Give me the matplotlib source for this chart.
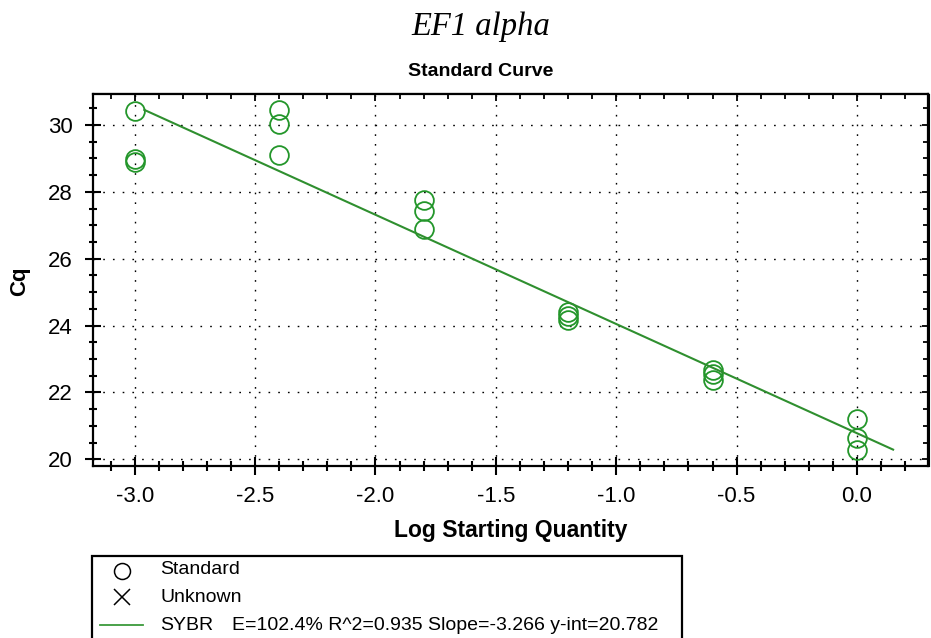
import matplotlib
matplotlib.use('Agg')
import matplotlib.pyplot as plt
from matplotlib.lines import Line2D
from matplotlib.patches import Rectangle
from matplotlib.ticker import MultipleLocator

log_cantidad = [-3.0, -3.0, -3.0,
                -2.4, -2.4, -2.4,
                -1.8, -1.8, -1.8,
                -1.2, -1.2, -1.2,
                -0.6, -0.6, -0.6,
                0.0, 0.0, 0.0]
cq = [30.42, 28.97, 28.88,
      30.45, 30.04, 29.10,
      27.76, 27.43, 26.88,
      24.42, 24.30, 24.18,
      22.68, 22.54, 22.36,
      21.21, 20.65, 20.29]
recta_x = [-2.96, 0.15]
recta_y = [30.45, 20.29]
xticks = [-3.0, -2.5, -2.0, -1.5, -1.0, -0.5, 0.0]
yticks = [20, 22, 24, 26, 28, 30]
texto_recta = 'E=102.4% R^2=0.935 Slope=-3.266 y-int=20.782'

W, H = 931, 638
verde = '#23962a'
verde_linea = '#2f8f2f'


def px(x, y):
    return x / W, 1 - y / H


plt.rcParams['font.family'] = ['Liberation Sans', 'DejaVu Sans']

fig = plt.figure(figsize=(W / 100, H / 100), dpi=100)
ax = fig.add_axes([93 / W, 1 - 466 / H, (928.5 - 93) / W, (466 - 93.5) / H])

ax.plot(log_cantidad, cq, linestyle='none', marker='o', markersize=13.5,
        markerfacecolor='none', markeredgecolor=verde, markeredgewidth=1.3)
ax.plot(recta_x, recta_y, color=verde_linea, linewidth=1.5)

ax.set_xlim(-3.173, 0.297)
ax.set_ylim(19.80, 30.94)
ax.set_xticks(xticks)
ax.set_xticklabels([f'{v:.1f}' for v in xticks])
ax.set_yticks(yticks)
ax.xaxis.set_minor_locator(MultipleLocator(0.1))
ax.yaxis.set_minor_locator(MultipleLocator(0.5))

ax.grid(True, which='major', color='black', linestyle=(0, (1.2, 5.8)), linewidth=1.0)

for s in ax.spines.values():
    s.set_linewidth(1.6)

ax.tick_params(axis='x', which='major', direction='inout', length=13, width=1.5,
               labelsize=16, pad=8)
ax.tick_params(axis='x', which='minor', direction='inout', length=6.5, width=1.5)
ax.tick_params(axis='y', which='major', direction='inout', length=11, width=1.5,
               labelsize=16, pad=9)
ax.tick_params(axis='y', which='minor', direction='inout', length=6, width=1.5)

# ticks hacia adentro arriba y a la derecha
sx = ax.secondary_xaxis('top')
sx.set_xticks(xticks)
sx.xaxis.set_minor_locator(MultipleLocator(0.1))
sx.tick_params(which='major', direction='in', length=6, width=1.3, labeltop=False)
sx.tick_params(which='minor', direction='in', length=4.5, width=1.3)
sy = ax.secondary_yaxis('right')
sy.set_yticks(yticks)
sy.yaxis.set_minor_locator(MultipleLocator(0.5))
sy.tick_params(which='major', direction='in', length=5, width=1.3, labelright=False)
sy.tick_params(which='minor', direction='in', length=4, width=1.3)

fig.text(*px(20, 281), 'Cq', fontsize=16, fontweight='bold', rotation=90,
         ha='center', va='center')
fig.text(*px(511, 530), 'Log Starting Quantity', fontsize=16.5, fontweight='bold',
         ha='center', va='center')
fig.text(*px(481, 72), 'Standard Curve', fontsize=14, fontweight='bold',
         ha='center', va='center')
fig.text(*px(481, 27), 'EF1 alpha', fontsize=23.5, style='italic',
         family=['Liberation Serif', 'DejaVu Serif'], ha='center', va='center')

# leyenda dibujada a mano (la caja sigue por debajo de la figura)
x0, y0 = px(92, 555.5)
x1, y1 = px(682, 660)
fig.add_artist(Rectangle((x0, y1), x1 - x0, y0 - y1, transform=fig.transFigure,
                         fill=False, edgecolor='black', linewidth=1.6, clip_on=False))
fig.add_artist(Line2D([px(122, 0)[0]], [px(0, 571)[1]], marker='o', markersize=11.5,
                      markerfacecolor='none', markeredgecolor='black',
                      markeredgewidth=1.1, transform=fig.transFigure))
fig.add_artist(Line2D([px(122, 0)[0]], [px(0, 597)[1]], marker='x', markersize=11.5,
                      markeredgecolor='black', markeredgewidth=1.1,
                      transform=fig.transFigure))
fig.add_artist(Line2D([px(100, 0)[0], px(143, 0)[0]], [px(0, 625)[1]] * 2,
                      color='#3c9a3c', linewidth=1.3, transform=fig.transFigure))
fig.text(*px(160, 570), 'Standard', fontsize=14, ha='left', va='center')
fig.text(*px(160, 597), 'Unknown', fontsize=14, ha='left', va='center')
fig.text(*px(160, 625), 'SYBR', fontsize=14, ha='left', va='center')
fig.text(*px(232, 625), texto_recta, fontsize=14, ha='left', va='center')

fig.savefig('out.png', dpi=100)
